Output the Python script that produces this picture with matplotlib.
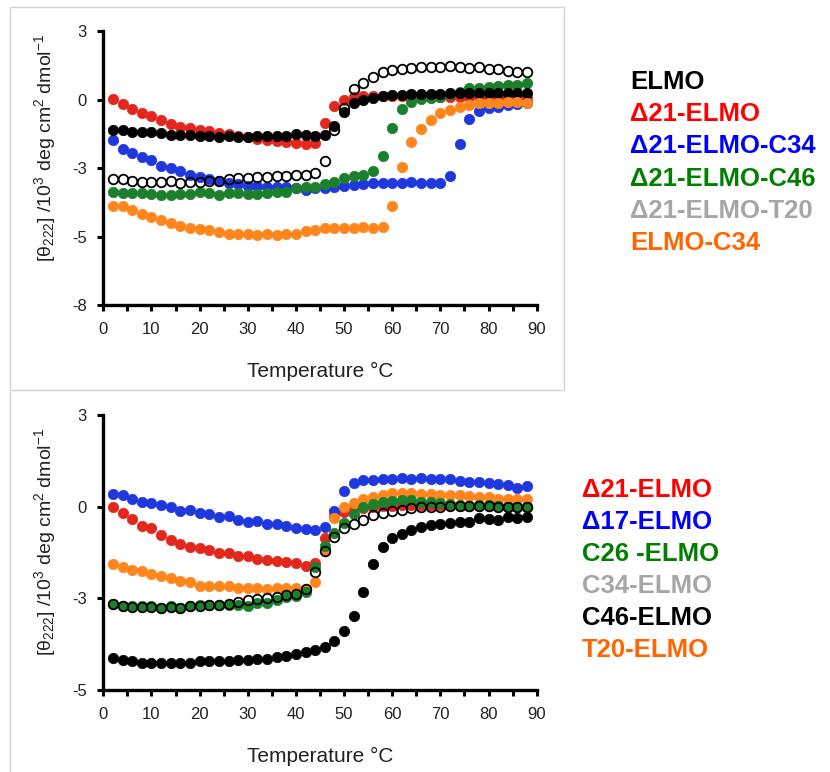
import matplotlib.pyplot as plt
from matplotlib.patches import Rectangle
from matplotlib.lines import Line2D

plt.rcParams['font.family'] = ['Liberation Sans', 'DejaVu Sans']
plt.rcParams['mathtext.default'] = 'regular'

# temperatures (deg C), same grid for every series
temps = list(range(2, 90, 2))

# ---- top panel ----
top_elmo = [-0.98, -0.98, -1.04, -1.04, -1.04, -1.10, -1.18, -1.18, -1.18, -1.22,
            -1.22, -1.27, -1.22, -1.25, -1.27, -1.22, -1.22, -1.22, -1.22, -1.14,
            -1.18, -1.20, -1.18, -0.82, -0.25, 0.11, 0.23, 0.31, 0.39, 0.43,
            0.45, 0.47, 0.47, 0.49, 0.49, 0.50, 0.50, 0.50, 0.50, 0.51,
            0.51, 0.51, 0.51, 0.51]
top_d21 = [0.26, 0.06, -0.14, -0.31, -0.41, -0.57, -0.73, -0.84, -0.91, -0.98,
           -1.02, -1.08, -1.14, -1.22, -1.27, -1.35, -1.38, -1.41, -1.47, -1.49,
           -1.52, -1.48, -0.68, -0.01, 0.23, 0.34, 0.39, 0.41, 0.40, 0.40,
           0.38, 0.38, 0.37, 0.37, 0.36, 0.36, 0.35, 0.35, 0.34, 0.34,
           0.34, 0.33, 0.33, 0.33]
top_d21_c34 = [-1.38, -1.75, -1.89, -2.07, -2.18, -2.42, -2.51, -2.62, -2.78, -2.85,
               -2.94, -3.01, -3.09, -3.14, -3.22, -3.22, -3.25, -3.25, -3.28, -3.32,
               -3.39, -3.32, -3.32, -3.25, -3.22, -3.18, -3.14, -3.09, -3.12, -3.12,
               -3.12, -3.05, -3.12, -3.12, -3.09, -2.82, -1.54, -0.55, -0.20, -0.10,
               -0.04, 0.03, 0.07, 0.10]
top_d21_c46 = [-3.45, -3.49, -3.52, -3.52, -3.55, -3.59, -3.59, -3.55, -3.55, -3.45,
               -3.52, -3.59, -3.52, -3.52, -3.55, -3.55, -3.49, -3.45, -3.45, -3.32,
               -3.25, -3.25, -3.14, -3.05, -2.92, -2.82, -2.78, -2.61, -2.02, -0.91,
               -0.14, 0.16, 0.26, 0.30, 0.34, 0.47, 0.56, 0.70, 0.72, 0.76,
               0.79, 0.83, 0.83, 0.90]
top_d21_t20 = [-2.96, -2.96, -3.01, -3.05, -3.05, -3.05, -3.01, -3.09, -3.05, -3.05,
               -3.01, -3.01, -2.96, -2.92, -2.92, -2.85, -2.85, -2.82, -2.82, -2.78,
               -2.78, -2.70, -2.20, -0.98, -0.10, 0.66, 0.92, 1.14, 1.34, 1.43,
               1.47, 1.50, 1.57, 1.57, 1.57, 1.61, 1.54, 1.50, 1.54, 1.47,
               1.46, 1.41, 1.34, 1.34]
top_elmo_c34 = [-4.03, -4.03, -4.20, -4.35, -4.48, -4.59, -4.72, -4.82, -4.92, -4.96,
                -4.99, -5.06, -5.15, -5.15, -5.15, -5.19, -5.15, -5.19, -5.15, -5.15,
                -5.02, -4.99, -4.92, -4.92, -4.92, -4.92, -4.86, -4.92, -4.86, -4.02,
                -2.45, -1.45, -0.95, -0.57, -0.31, -0.17, -0.04, 0.03, 0.12, 0.12,
                0.12, 0.16, 0.16, 0.12]

# ---- bottom panel ----
bot_d21 = [0.31, 0.14, -0.03, -0.23, -0.30, -0.49, -0.64, -0.75, -0.85, -0.88,
           -0.92, -1.02, -1.00, -1.10, -1.10, -1.20, -1.22, -1.24, -1.27, -1.31,
           -1.39, -1.30, -0.59, 0.06, 0.18, 0.26, 0.30, 0.33, 0.35, 0.36,
           0.37, 0.37, 0.37, 0.37, 0.37, 0.37, 0.36, 0.36, 0.35, 0.35,
           0.34, 0.33, 0.32, 0.32]
bot_d17 = [0.70, 0.67, 0.57, 0.48, 0.43, 0.38, 0.31, 0.22, 0.24, 0.16,
           0.12, 0.04, 0.06, -0.05, -0.10, -0.07, -0.17, -0.17, -0.23, -0.30,
           -0.33, -0.35, -0.27, 0.22, 0.80, 1.03, 1.10, 1.12, 1.13, 1.13,
           1.16, 1.13, 1.16, 1.13, 1.13, 1.13, 1.09, 1.06, 1.06, 1.01,
           0.99, 0.96, 0.89, 0.93]
bot_c26 = [-2.50, -2.56, -2.57, -2.57, -2.57, -2.60, -2.57, -2.60, -2.56, -2.53,
           -2.53, -2.53, -2.53, -2.53, -2.56, -2.48, -2.46, -2.38, -2.30, -2.26,
           -2.15, -1.41, -0.81, -0.44, -0.15, 0.12, 0.31, 0.40, 0.48, 0.50,
           0.53, 0.53, 0.48, 0.48, 0.45, 0.41, 0.38, 0.35, 0.38, 0.38,
           0.35, 0.31, 0.31, 0.31]
bot_c34 = [-2.50, -2.56, -2.58, -2.58, -2.58, -2.60, -2.58, -2.60, -2.57, -2.55,
           -2.54, -2.52, -2.50, -2.45, -2.38, -2.36, -2.33, -2.28, -2.25, -2.20,
           -2.07, -1.58, -0.97, -0.54, -0.30, -0.17, -0.05, 0.09, 0.14, 0.22,
           0.24, 0.29, 0.31, 0.33, 0.33, 0.35, 0.35, 0.35, 0.34, 0.34,
           0.33, 0.33, 0.32, 0.32]
bot_c46 = [-4.07, -4.14, -4.17, -4.20, -4.20, -4.22, -4.20, -4.22, -4.20, -4.17,
           -4.17, -4.17, -4.17, -4.14, -4.14, -4.10, -4.10, -4.04, -4.00, -3.96,
           -3.90, -3.83, -3.75, -3.56, -3.27, -2.84, -2.15, -1.33, -0.83, -0.59,
           -0.46, -0.34, -0.25, -0.20, -0.17, -0.13, -0.10, -0.10, 0.00, -0.03,
           -0.05, 0.03, 0.00, 0.03]
bot_t20 = [-1.33, -1.41, -1.50, -1.55, -1.62, -1.68, -1.75, -1.82, -1.87, -1.97,
           -1.97, -1.97, -1.97, -2.04, -2.04, -2.04, -2.07, -2.04, -2.04, -2.04,
           -2.07, -1.87, -0.97, 0.00, 0.31, 0.43, 0.55, 0.62, 0.67, 0.72,
           0.74, 0.74, 0.70, 0.70, 0.67, 0.67, 0.67, 0.65, 0.62, 0.62,
           0.57, 0.55, 0.55, 0.55]

top_labels = ['ELMO', 'Δ21-ELMO', 'Δ21-ELMO-C34', 'Δ21-ELMO-C46', 'Δ21-ELMO-T20', 'ELMO-C34']
bot_labels = ['Δ21-ELMO', 'Δ17-ELMO', 'C26 -ELMO', 'C34-ELMO', 'C46-ELMO', 'T20-ELMO']

# excel-style axis: evenly spaced ticks, rounded labels
top_yticks = [3, 0.25, -2.5, -5.25, -8]
top_yticklabels = ['3', '0', '-3', '-5', '-8']
bot_yticks = [3, 1 / 3, -7 / 3, -5]
bot_yticklabels = ['3', '0', '-3', '-5']

RED, BLUE, GREEN, ORANGE = '#e3271d', '#1f38de', '#1b7f2c', '#ff861d'
TXT = {'black': '#000000', 'red': '#ff0000', 'blue': '#0000ff',
       'green': '#007f00', 'gray': '#a6a6a6', 'orange': '#ff6600'}

fig = plt.figure(figsize=(8.3, 7.72), dpi=100)

# panel frames
fig.add_artist(Rectangle((10 / 830, 1 - 390 / 772), 554 / 830, 383 / 772,
                         transform=fig.transFigure, fill=False, ec='#d4d4d4', lw=1))
fig.add_artist(Line2D([10 / 830, 10 / 830], [0, 1 - 392 / 772],
                      transform=fig.transFigure, color='#d4d4d4', lw=1))

ax1 = fig.add_axes([103.3 / 830, 1 - 305 / 772, 433.4 / 830, 274 / 772])
ax2 = fig.add_axes([103.3 / 830, 1 - 690 / 772, 433.4 / 830, 275 / 772])

ms = 7.5
def dots(ax, y, c):
    ax.plot(temps, y, 'o', ms=ms, color=c, mec=c, mew=0.5, clip_on=False)

def rings(ax, y):
    ax.plot(temps, y, 'o', ms=ms - 0.6, mfc='none', mec='black', mew=1.3, clip_on=False)

dots(ax1, top_d21, RED)
dots(ax1, top_d21_c34, BLUE)
dots(ax1, top_d21_c46, GREEN)
dots(ax1, top_elmo, 'black')
dots(ax1, top_elmo_c34, ORANGE)
rings(ax1, top_d21_t20)

dots(ax2, bot_d21, RED)
dots(ax2, bot_d17, BLUE)
dots(ax2, bot_t20, ORANGE)
dots(ax2, bot_c26, GREEN)
dots(ax2, bot_c46, 'black')
rings(ax2, bot_c34)

for ax, yl, yt, ytl, lab_y in [(ax1, (-8, 3), top_yticks, top_yticklabels, 0.573),
                               (ax2, (-5, 3), bot_yticks, bot_yticklabels, 0.538)]:
    ax.set_xlim(0, 90)
    ax.set_ylim(*yl)
    ax.set_yticks(yt)
    ax.set_yticklabels(ytl)
    ax.set_xticks(range(0, 91, 10))
    ax.set_xticks(range(5, 90, 10), minor=True)
    for s in ['top', 'right']:
        ax.spines[s].set_visible(False)
    for s in ['left', 'bottom']:
        ax.spines[s].set_linewidth(2.4)
    ax.tick_params(which='both', direction='out', length=4, width=2.2,
                   pad=8, labelsize=12, labelcolor='#222222')
    ax.set_xlabel('Temperature °C', fontsize=15, labelpad=18, color='#222222')
    ax.set_ylabel('[θ$_{222}$] /10$^{3}$ deg cm$^{2}$ dmol$^{-1}$', fontsize=14,
                  color='#222222')
    ax.yaxis.set_label_coords(-0.105, lab_y)
    ax.patch.set_alpha(0)

# coloured text legends
top_cols = [TXT['black'], TXT['red'], TXT['blue'], TXT['green'], TXT['gray'], TXT['orange']]
for i, (lab, c) in enumerate(zip(top_labels, top_cols)):
    fig.text(630 / 830, 1 - (81.7 + 32.3 * i) / 772, lab, color=c, fontsize=18.5,
             fontweight='bold', va='center', ha='left')

bot_cols = [TXT['red'], TXT['blue'], TXT['green'], TXT['gray'], TXT['black'], TXT['orange']]
for i, (lab, c) in enumerate(zip(bot_labels, bot_cols)):
    fig.text(581.7 / 830, 1 - (490 + 32 * i) / 772, lab, color=c, fontsize=18.5,
             fontweight='bold', va='center', ha='left')

fig.savefig('out.png', dpi=100)
